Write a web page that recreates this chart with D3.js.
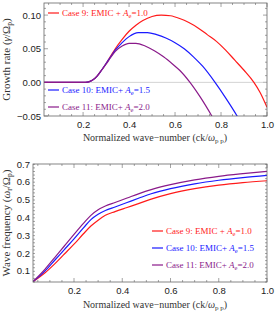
<!DOCTYPE html>
<html>
<head>
<meta charset="utf-8">
<script src="https://cdn.jsdelivr.net/npm/d3@7"></script>
<style>
  body { margin: 0; background: #fff; }
  svg { display: block; }
  .tick text { font-family: "Liberation Sans", Arial, sans-serif; font-size: 9.5px; fill: #222; }
  .title { font-family: "Liberation Serif", "Times New Roman", serif; font-size: 10px; fill: #333; }
  .ytitle { font-size: 11px; }
  .legend { font-family: "Liberation Serif", "Times New Roman", serif; font-size: 9px; }
</style>
</head>
<body>
<svg id="chart" width="275" height="314"></svg>
<script>
// ---- data ----
const cases = ["Case 9: EMIC + ", "Case 10: EMIC+ ", "Case 11: EMIC+ "];
const aeValues = ["1.0", "1.5", "2.0"];
const colors = ["#ff1a1a", "#1a1aff", "#8a1a8a"];
const xTicks = [0.2, 0.4, 0.6, 0.8, 1.0];
const growthTicks = [-0.05, 0, 0.05, 0.10];
const freqTicks = [0.1, 0.2, 0.3, 0.4, 0.5, 0.6, 0.7];

const growthCase9 = [[0.03,0],[0.20,0],[0.22,0.0005],[0.24,0.003],[0.26,0.009],[0.28,0.018],[0.30,0.028],
  [0.32,0.039],[0.34,0.050],[0.37,0.064],[0.40,0.076],[0.43,0.085],[0.46,0.092],[0.50,0.098],[0.54,0.100],
  [0.58,0.099],[0.62,0.095],[0.66,0.089],[0.70,0.081],[0.74,0.071],[0.78,0.061],[0.82,0.048],[0.86,0.033],
  [0.90,0.018],[0.943,0],[0.97,-0.015],[1.0,-0.037]];
const growthCase10 = [[0.03,0],[0.20,0],[0.22,0.0005],[0.24,0.003],[0.26,0.009],[0.28,0.018],[0.30,0.028],
  [0.32,0.038],[0.34,0.048],[0.37,0.059],[0.40,0.068],[0.44,0.074],[0.48,0.074],[0.52,0.071],[0.56,0.066],
  [0.60,0.059],[0.64,0.050],[0.68,0.038],[0.72,0.024],[0.774,0],[0.82,-0.023],[0.87,-0.05],[0.90,-0.068]];
const growthCase11 = [[0.03,0],[0.20,0],[0.22,0.0005],[0.24,0.003],[0.26,0.009],[0.28,0.018],[0.30,0.027],
  [0.32,0.037],[0.34,0.046],[0.37,0.054],[0.40,0.058],[0.43,0.058],[0.47,0.054],[0.51,0.047],[0.55,0.038],
  [0.59,0.027],[0.62,0.018],[0.665,0],[0.71,-0.022],[0.76,-0.05],[0.79,-0.068]];

const freqCase9 = [[0.03,0.04],[0.08,0.09],[0.12,0.14],[0.16,0.195],[0.20,0.25],[0.24,0.31],[0.27,0.352],
  [0.30,0.385],[0.33,0.412],[0.37,0.433],[0.42,0.456],[0.47,0.479],[0.52,0.503],[0.60,0.534],[0.70,0.562],
  [0.80,0.582],[0.90,0.596],[1.0,0.606]];
const freqCase10 = [[0.03,0.04],[0.08,0.10],[0.12,0.16],[0.16,0.22],[0.20,0.28],[0.24,0.343],[0.27,0.388],
  [0.30,0.418],[0.33,0.439],[0.37,0.459],[0.42,0.484],[0.47,0.509],[0.52,0.533],[0.60,0.562],[0.70,0.589],
  [0.80,0.609],[0.90,0.624],[1.0,0.636]];
const freqCase11 = [[0.03,0.04],[0.08,0.11],[0.12,0.175],[0.16,0.24],[0.20,0.305],[0.24,0.368],[0.27,0.412],
  [0.30,0.443],[0.33,0.464],[0.37,0.484],[0.42,0.509],[0.47,0.534],[0.52,0.556],[0.60,0.584],[0.70,0.611],
  [0.80,0.631],[0.90,0.646],[1.0,0.659]];

const svg = d3.select("#chart");
const frameColor = "#666";

function drawPanel(cfg) {
  const x = d3.scaleLinear().domain([0.03, 1.0]).range([cfg.left, 267]);
  const y = d3.scaleLinear().domain(cfg.yDomain).range([cfg.bottom, cfg.top]);
  const g = svg.append("g");

  g.append("clipPath").attr("id", cfg.id)
    .append("rect").attr("x", cfg.left).attr("y", cfg.top)
    .attr("width", 267 - cfg.left).attr("height", cfg.bottom - cfg.top);

  // minor + major ticks on all four sides, pointing inwards
  const xMinor = d3.range(0.05, 1.001, 0.05);
  const yMinor = d3.range(cfg.yDomain[0], cfg.yDomain[1] + 1e-9, cfg.yMinorStep)
    .map(v => +v.toFixed(4)).filter(v => v >= cfg.yDomain[0] && v <= cfg.yDomain[1]);
  const isMajor = (v, arr) => arr.some(t => Math.abs(t - v) < 1e-6);

  const mk = (sel, orient, scale, vals, majors) => {
    sel.selectAll(null).data(vals.filter(v => scale(v) >= d3.min(scale.range()) - 0.5 && scale(v) <= d3.max(scale.range()) + 0.5))
      .enter().append("line")
      .attr("stroke", frameColor).attr("stroke-width", 0.6)
      .each(function(v) {
        const len = isMajor(v, majors) ? 4 : 2;
        const p = scale(v);
        const l = d3.select(this);
        if (orient === "bottom") l.attr("x1", p).attr("x2", p).attr("y1", cfg.bottom).attr("y2", cfg.bottom - len);
        if (orient === "top") l.attr("x1", p).attr("x2", p).attr("y1", cfg.top).attr("y2", cfg.top + len);
        if (orient === "left") l.attr("y1", p).attr("y2", p).attr("x1", cfg.left).attr("x2", cfg.left + len);
        if (orient === "right") l.attr("y1", p).attr("y2", p).attr("x1", 267).attr("x2", 267 - len);
      });
  };
  mk(g, "bottom", x, xMinor, xTicks);
  mk(g, "top", x, xMinor, xTicks);
  mk(g, "left", y, yMinor, cfg.yTicks);
  mk(g, "right", y, yMinor, cfg.yTicks);

  // tick labels via d3 axes (tick lines hidden)
  g.append("g").attr("transform", `translate(0,${cfg.bottom})`)
    .call(d3.axisBottom(x).tickValues(xTicks).tickFormat(d3.format(".1f")).tickSize(0).tickPadding(5))
    .call(a => a.select(".domain").remove());
  g.append("g").attr("transform", `translate(${cfg.left},0)`)
    .call(d3.axisLeft(y).tickValues(cfg.yTicks).tickFormat(cfg.yFormat).tickSize(0).tickPadding(3))
    .call(a => a.select(".domain").remove());

  if (cfg.zeroLine) {
    g.append("line").attr("x1", cfg.left).attr("x2", 267)
      .attr("y1", y(0)).attr("y2", y(0)).attr("stroke", "#c8c8c8").attr("stroke-width", 0.8);
  }

  const line = d3.line().x(d => x(d[0])).y(d => y(d[1])).curve(d3.curveMonotoneX);
  g.append("g").attr("clip-path", `url(#${cfg.id})`)
    .selectAll("path").data(cfg.series).enter().append("path")
    .attr("d", line).attr("fill", "none")
    .attr("stroke", (d, i) => colors[i]).attr("stroke-width", 1.2);

  g.append("rect").attr("x", cfg.left).attr("y", cfg.top)
    .attr("width", 267 - cfg.left).attr("height", cfg.bottom - cfg.top)
    .attr("fill", "none").attr("stroke", frameColor).attr("stroke-width", 0.8);

  // legend
  cfg.legendY.forEach((ly, i) => {
    g.append("line").attr("x1", cfg.legendX).attr("x2", cfg.legendX + 11)
      .attr("y1", ly).attr("y2", ly).attr("stroke", colors[i]).attr("stroke-width", 1.2);
    const t = g.append("text").attr("class", "legend").attr("x", cfg.legendX + 14).attr("y", ly + 3)
      .attr("fill", colors[i]);
    t.append("tspan").text(cases[i]);
    t.append("tspan").attr("font-style", "italic").text("A");
    t.append("tspan").attr("font-size", "6.5px").attr("dy", 2).text("e");
    t.append("tspan").attr("dy", -2).text("=" + aeValues[i]);
  });

  // axis titles
  const xt = g.append("text").attr("class", "title").attr("text-anchor", "middle")
    .attr("x", 155).attr("y", cfg.xTitleY);
  xt.append("tspan").text("Normalized wave\u2212number (ck/");
  xt.append("tspan").attr("font-style", "italic").text("\u03c9");
  xt.append("tspan").attr("font-size", "7px").attr("dy", 2).text("p p");
  xt.append("tspan").attr("dy", -2).text(")");

  const yt = g.append("text").attr("class", "title ytitle").attr("text-anchor", "middle")
    .attr("transform", `translate(${cfg.yTitleX},${(cfg.top + cfg.bottom) / 2}) rotate(-90)`);
  cfg.yTitle(yt);
}

drawPanel({
  id: "clipTop", left: 44, top: 3, bottom: 116,
  yDomain: [-0.05, 0.118], yTicks: growthTicks, yMinorStep: 0.01,
  yFormat: v => (v < 0 ? "\u2212" : "") + Math.abs(v).toFixed(2),
  zeroLine: true,
  series: [growthCase9, growthCase10, growthCase11],
  legendX: 48, legendY: [13, 90, 107],
  xTitleY: 141, yTitleX: 10,
  yTitle: t => {
    t.append("tspan").text("Growth rate  (");
    t.append("tspan").attr("font-style", "italic").text("\u03b3");
    t.append("tspan").text("/\u03a9");
    t.append("tspan").attr("font-size", "7.5px").attr("dy", 2).text("p");
    t.append("tspan").attr("dy", -2).text(")");
  }
});

drawPanel({
  id: "clipBottom", left: 33, top: 164, bottom: 282,
  yDomain: [0.038, 0.7], yTicks: freqTicks, yMinorStep: 0.02,
  yFormat: d3.format(".1f"),
  zeroLine: false,
  series: [freqCase9, freqCase10, freqCase11],
  legendX: 152, legendY: [231, 248, 265],
  xTitleY: 308, yTitleX: 10,
  yTitle: t => {
    t.append("tspan").text("Wave frequency  (");
    t.append("tspan").attr("font-style", "italic").text("\u03c9");
    t.append("tspan").attr("font-size", "7.5px").attr("dy", 2).text("r");
    t.append("tspan").attr("dy", -2).text("/\u03a9");
    t.append("tspan").attr("font-size", "7.5px").attr("dy", 2).text("p");
    t.append("tspan").attr("dy", -2).text(")");
  }
});
</script>
</body>
</html>
